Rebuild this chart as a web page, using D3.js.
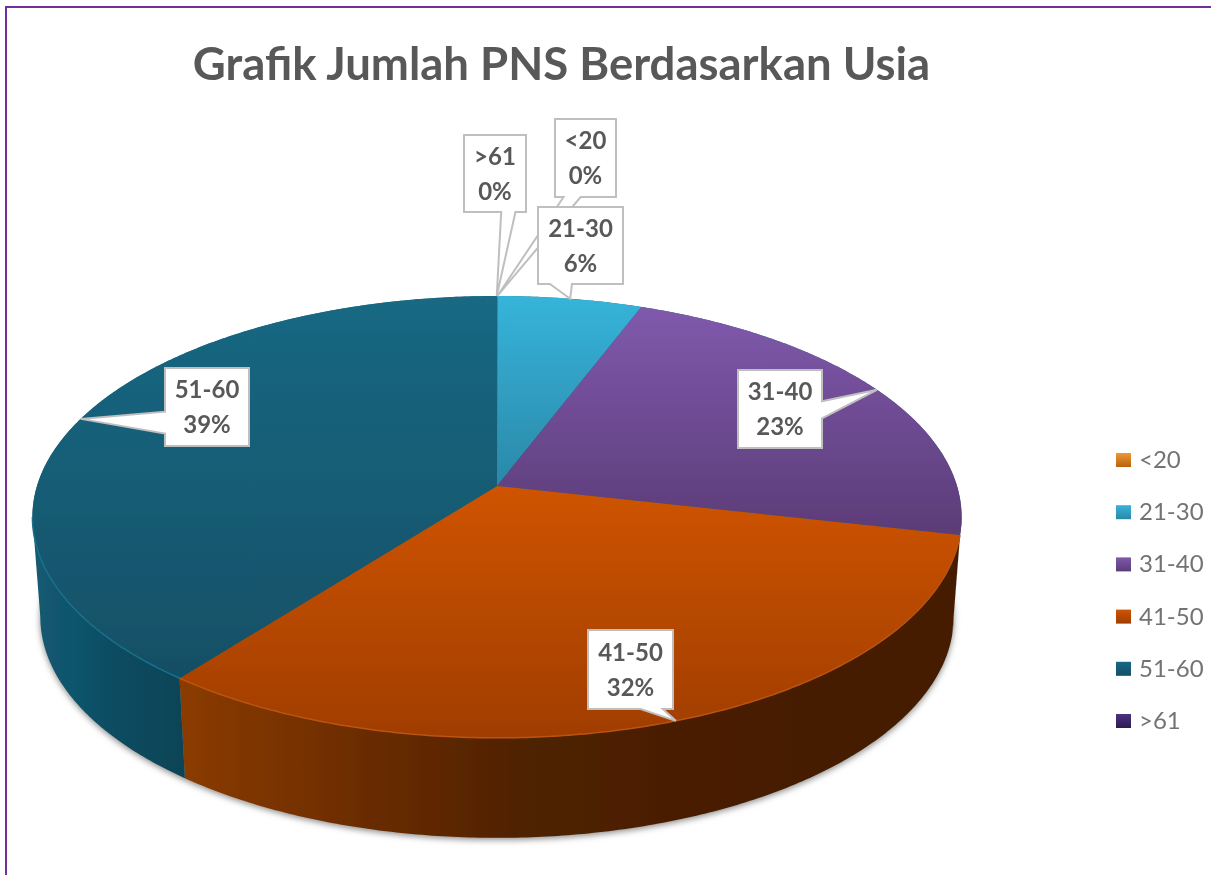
<!DOCTYPE html>
<html>
<head>
<meta charset="utf-8">
<script src="https://cdn.jsdelivr.net/npm/d3@7"></script>
<style>
  html, body { margin: 0; padding: 0; background: #fff; }
  text { font-family: Lato, "Open Sans", sans-serif; }
</style>
</head>
<body>
<div id="chart"></div>
<script>
const width = 1211, height = 875;

// values (labels show them rounded)
const categories = ["<20", "21-30", "31-40", "41-50", "51-60", ">61"];
const percents = [0.02, 5.75, 22.75, 32.0, 39.46, 0.02];
const topColors = ["#ee9a33", "#36b4da", "#8059ad", "#cf5400", "#1a6883", "#4c3180"];
const bottomColors = ["#b8610f", "#2b88a8", "#5b3c77", "#a03d00", "#115066", "#2e1c50"];

// callout boxes: which edge the tail leaves from and where along that edge
const callouts = [
  {box: [555, 119, 616, 197], edge: "bottom", base: [0.14, 0.42]},
  {box: [538, 207, 623, 284], edge: "bottom", base: [0.14, 0.40]},
  {box: [738, 370, 822, 448], edge: "right", base: [0.40, 0.62]},
  {box: [588, 630, 673, 709], edge: "bottom", base: [0.62, 0.88]},
  {box: [165, 368, 249, 446], edge: "left", base: [0.56, 0.84]},
  {box: [464, 135, 526, 212], edge: "bottom", base: [0.60, 0.83]}
];

// perspective disc: the pie centre sits above the middle of the ellipse
const cx = 497, cy = 486, k = 0.14, rimX = 460, rimY = 216.6;
const drop = 100, bottomScale = 0.983;

const project = (a, s = 1, dy = 0) => {
  const u = Math.sin(a), v = Math.cos(a), w = 1 + k * v;
  return [cx + s * rimX * u / w, cy + dy - rimY * v / w];
};
const arcPoints = (a0, a1, s, dy) => {
  const n = Math.max(2, Math.ceil(Math.abs(a1 - a0) / 0.01));
  return d3.range(n + 1).map(i => project(a0 + (a1 - a0) * i / n, s, dy));
};

const svg = d3.select("#chart").append("svg")
  .attr("width", width)
  .attr("height", height)
  .style("display", "block");

const defs = svg.append("defs");
defs.append("filter").attr("id", "soft")
  .attr("x", "-5%").attr("y", "-5%").attr("width", "110%").attr("height", "110%")
  .append("feGaussianBlur").attr("stdDeviation", 3);
defs.append("filter").attr("id", "soften")
  .append("feGaussianBlur").attr("stdDeviation", 0.7);

const vGrad = (id, c0, c1) => {
  const g = defs.append("linearGradient").attr("id", id)
    .attr("x1", 0).attr("y1", 0).attr("x2", 0).attr("y2", 1);
  g.append("stop").attr("offset", "0%").attr("stop-color", c0);
  g.append("stop").attr("offset", "100%").attr("stop-color", c1);
};
categories.forEach((c, i) => vGrad("face" + i, topColors[i], bottomColors[i]));

const sideStops = [
  [[0, "#8a3b00"], [0.25, "#6f2e00"], [0.55, "#4f2100"], [1, "#451d00"]],
  [[0, "#125a72"], [0.6, "#0e4a5f"], [1, "#0d4356"]]
];
const sideGrad = (id, x1, x2, stops) => {
  const g = defs.append("linearGradient").attr("id", id)
    .attr("gradientUnits", "userSpaceOnUse")
    .attr("x1", x1).attr("y1", 0).attr("x2", x2).attr("y2", 0);
  stops.forEach(s => g.append("stop").attr("offset", s[0]).attr("stop-color", s[1]));
};
sideGrad("sideOrange", 185, 800, sideStops[0]);
sideGrad("sideTeal", 40, 187, sideStops[1]);

// frame
svg.append("line").attr("x1", 6).attr("y1", 7).attr("x2", width).attr("y2", 7)
  .attr("stroke", "#7030a0").attr("stroke-width", 2);
svg.append("line").attr("x1", 6).attr("y1", 6).attr("x2", 6).attr("y2", height)
  .attr("stroke", "#7030a0").attr("stroke-width", 2);

// title
svg.append("text")
  .attr("x", 561.5).attr("y", 80)
  .attr("text-anchor", "middle")
  .attr("font-size", 45.5).attr("font-weight", 700)
  .attr("fill", "#595959")
  .attr("filter", "url(#soften)")
  .text("Grafik Jumlah PNS Berdasarkan Usia");

const slices = d3.pie().sort(null).value(d => d)(percents);
const line = d3.line();
const frontA0 = Math.acos(-k), frontA1 = 2 * Math.PI - frontA0;

const pieG = svg.append("g").attr("filter", "url(#soften)");

// soft shadow under the disc
pieG.append("path")
  .attr("d", line(arcPoints(0, 2 * Math.PI, bottomScale, drop + 2)) + "Z")
  .attr("fill", "#8a8a8a")
  .attr("filter", "url(#soft)");

// side walls
slices.forEach((s, i) => {
  const a0 = Math.max(s.startAngle, frontA0), a1 = Math.min(s.endAngle, frontA1);
  if (a1 <= a0) return;
  const pts = arcPoints(a0, a1, 1, 0).concat(arcPoints(a1, a0, bottomScale, drop));
  pieG.append("path")
    .attr("d", line(pts) + "Z")
    .attr("fill", i === 3 ? "url(#sideOrange)" : i === 4 ? "url(#sideTeal)" : bottomColors[i]);
});

// dark disc under the faces so the two empty slices leave no seam
pieG.append("path")
  .attr("d", line(arcPoints(0, 2 * Math.PI, 1, 0)) + "Z")
  .attr("fill", "url(#face4)");

// top faces
slices.forEach((s, i) => {
  if (percents[i] < 1) return;
  const pts = [[cx, cy]].concat(arcPoints(s.startAngle, s.endAngle, 1, 0));
  pieG.append("path")
    .attr("d", line(pts) + "Z")
    .attr("fill", `url(#face${i})`);
});

// light rim along the front edge
[[3, "#bb5410"], [4, "#1a6f8a"]].forEach(([i, c]) => {
  const s = slices[i];
  pieG.append("path")
    .attr("d", line(arcPoints(Math.max(s.startAngle, frontA0), Math.min(s.endAngle, frontA1), 1, 0)))
    .attr("fill", "none").attr("stroke", c).attr("stroke-width", 1.5);
});

// callouts, drawn so that 21-30 covers the tail of <20
const calloutPath = (c, tip) => {
  const [x0, y0, x1, y1] = c.box;
  const w = x1 - x0, h = y1 - y0;
  const [b0, b1] = c.base;
  let pts;
  if (c.edge === "bottom")
    pts = [[x0, y0], [x1, y0], [x1, y1], [x0 + b1 * w, y1], tip, [x0 + b0 * w, y1], [x0, y1]];
  else if (c.edge === "right")
    pts = [[x0, y0], [x1, y0], [x1, y0 + b0 * h], tip, [x1, y0 + b1 * h], [x1, y1], [x0, y1]];
  else
    pts = [[x0, y0], [x1, y0], [x1, y1], [x0, y1], [x0, y0 + b1 * h], tip, [x0, y0 + b0 * h]];
  return line(pts) + "Z";
};

const order = [5, 0, 1, 2, 3, 4];
const labelG = svg.append("g").attr("filter", "url(#soften)");
order.forEach(i => {
  const s = slices[i], c = callouts[i];
  const tip = project((s.startAngle + s.endAngle) / 2);
  labelG.append("path")
    .attr("d", calloutPath(c, tip))
    .attr("fill", "#fff")
    .attr("stroke", "#bfbfbf")
    .attr("stroke-width", 2);
  const mx = (c.box[0] + c.box[2]) / 2, my = (c.box[1] + c.box[3]) / 2;
  const t = labelG.append("text")
    .attr("text-anchor", "middle")
    .attr("font-size", 24).attr("font-weight", 700)
    .attr("fill", "#595959");
  t.append("tspan").attr("x", mx).attr("y", my - 9).text(categories[i]);
  t.append("tspan").attr("x", mx).attr("y", my + 26).text(Math.round(percents[i]) + "%");
});

// legend
const legendY = d3.scalePoint().domain(categories).range([460, 721]);
const legend = svg.append("g").attr("filter", "url(#soften)")
  .selectAll("g").data(categories).join("g")
  .attr("transform", d => `translate(1116,${legendY(d)})`);
legend.append("rect")
  .attr("x", 0).attr("y", -7).attr("width", 15).attr("height", 14)
  .attr("fill", (d, i) => `url(#face${i})`);
legend.append("text")
  .attr("x", 23).attr("y", 8)
  .attr("font-size", 24)
  .attr("fill", "#737373")
  .text(d => d);
</script>
</body>
</html>
